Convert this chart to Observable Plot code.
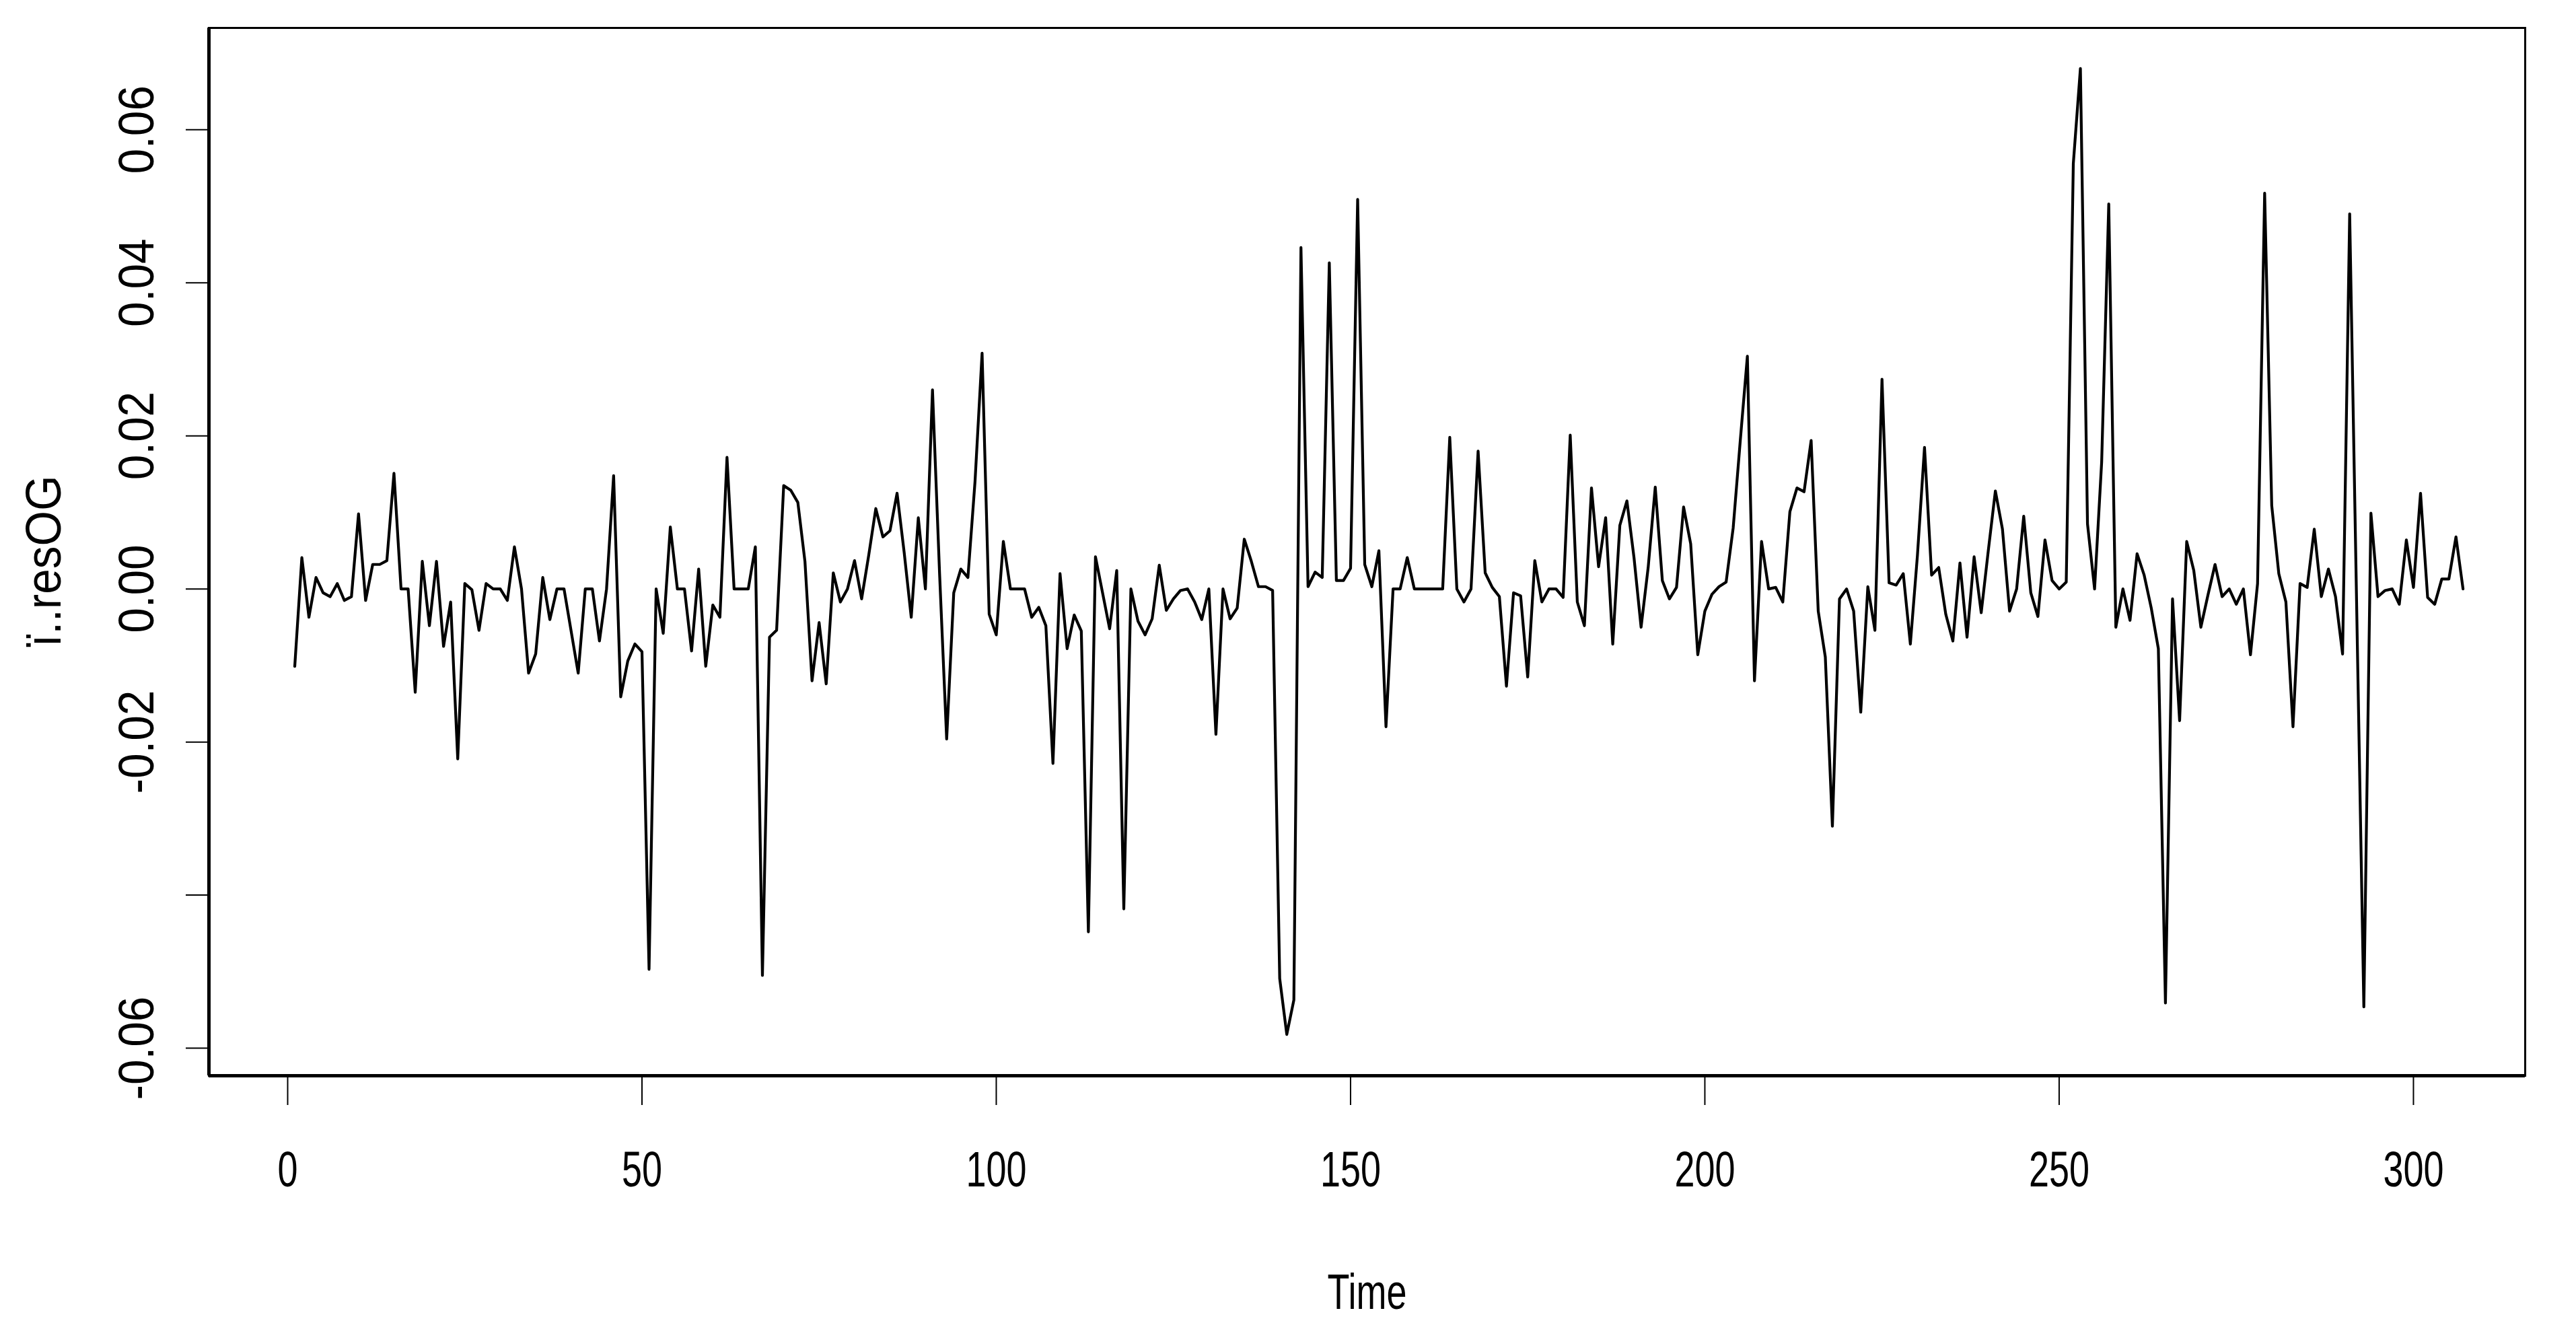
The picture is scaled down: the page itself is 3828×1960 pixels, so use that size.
<!DOCTYPE html>
<html>
<head>
<meta charset="utf-8">
<script src="https://cdn.jsdelivr.net/npm/d3@7"></script>
<script src="https://cdn.jsdelivr.net/npm/@observablehq/plot@0.6"></script>
<style>html,body{margin:0;padding:0;background:#fff;}</style>
</head>
<body>
<div id="chart"></div>
<script>
// Series values (t = 1 .. 307)
const values = [
-0.0101, 0.0041,-0.0037, 0.0015,-0.0005,-0.0010, 0.0007,-0.0015,-0.0010, 0.0098,
-0.0015, 0.0032, 0.0032, 0.0037, 0.0151, 0.0000, 0.0000,-0.0135, 0.0036,-0.0048,
 0.0036,-0.0075,-0.0017,-0.0222, 0.0007,-0.0001,-0.0054, 0.0007, 0.0000, 0.0000,
-0.0015, 0.0055, 0.0000,-0.0110,-0.0085, 0.0015,-0.0040, 0.0000, 0.0000,-0.0055,
-0.0110, 0.0000, 0.0000,-0.0068, 0.0000, 0.0148,-0.0141,-0.0094,-0.0072,-0.0082,
-0.0497, 0.0000,-0.0058, 0.0081, 0.0000, 0.0000,-0.0081, 0.0026,-0.0101,-0.0021,
-0.0037, 0.0172, 0.0000, 0.0000, 0.0000, 0.0055,-0.0505,-0.0063,-0.0054, 0.0135,
 0.0129, 0.0113, 0.0036,-0.0120,-0.0044,-0.0124, 0.0021,-0.0017, 0.0000, 0.0037,
-0.0013, 0.0044, 0.0105, 0.0068, 0.0076, 0.0125, 0.0048,-0.0037, 0.0093, 0.0000,
 0.0260, 0.0020,-0.0196,-0.0005, 0.0026, 0.0015, 0.0140, 0.0308,-0.0033,-0.0060,
 0.0062, 0.0000, 0.0000, 0.0000,-0.0037,-0.0024,-0.0048,-0.0228, 0.0020,-0.0078,
-0.0034,-0.0055,-0.0448, 0.0042,-0.0005,-0.0052, 0.0024,-0.0418, 0.0000,-0.0042,
-0.0060,-0.0039, 0.0031,-0.0028,-0.0013,-0.0002, 0.0000,-0.0017,-0.0040, 0.0000,
-0.0190, 0.0000,-0.0039,-0.0025, 0.0065, 0.0036, 0.0003, 0.0003,-0.0002,-0.0509,
-0.0582,-0.0537, 0.0446, 0.0003, 0.0022, 0.0015, 0.0426, 0.0011, 0.0011, 0.0027,
 0.0509, 0.0032, 0.0003, 0.0050,-0.0180, 0.0000, 0.0000, 0.0041, 0.0000, 0.0000,
 0.0000, 0.0000, 0.0000, 0.0198, 0.0000,-0.0017, 0.0000, 0.0180, 0.0021, 0.0002,
-0.0010,-0.0127,-0.0005,-0.0009,-0.0115, 0.0037,-0.0017, 0.0000, 0.0000,-0.0011,
 0.0201,-0.0017,-0.0048, 0.0132, 0.0029, 0.0093,-0.0072, 0.0083, 0.0115, 0.0041,
-0.0050, 0.0028, 0.0133, 0.0011,-0.0013, 0.0002, 0.0107, 0.0059,-0.0086,-0.0029,
-0.0007, 0.0003, 0.0009, 0.0080, 0.0194, 0.0304,-0.0120, 0.0062, 0.0000, 0.0002,
-0.0017, 0.0101, 0.0132, 0.0127, 0.0194,-0.0029,-0.0089,-0.0310,-0.0013, 0.0000,
-0.0029,-0.0161, 0.0003,-0.0054, 0.0274, 0.0008, 0.0005, 0.0020,-0.0072, 0.0044,
 0.0185, 0.0018, 0.0028,-0.0033,-0.0068, 0.0034,-0.0063, 0.0042,-0.0031, 0.0050,
 0.0128, 0.0078,-0.0029, 0.0000, 0.0095,-0.0005,-0.0036, 0.0064, 0.0011, 0.0000,
 0.0009, 0.0556, 0.0680, 0.0085, 0.0000, 0.0166, 0.0503,-0.0050, 0.0000,-0.0041,
 0.0046, 0.0018,-0.0025,-0.0078,-0.0541,-0.0013,-0.0172, 0.0062, 0.0024,-0.0050,
-0.0008, 0.0032,-0.0010, 0.0000,-0.0020, 0.0000,-0.0086, 0.0007, 0.0517, 0.0109,
 0.0020,-0.0017,-0.0180, 0.0007, 0.0002, 0.0078,-0.0010, 0.0026,-0.0010,-0.0085,
 0.0490,-0.0030,-0.0546, 0.0099,-0.0010,-0.0002, 0.0000,-0.0020, 0.0064, 0.0002,
 0.0125,-0.0011,-0.0020, 0.0013, 0.0013, 0.0068, 0.0000
];
const times = d3.range(1, values.length + 1); // time index 1..n
const xTicks = [0, 50, 100, 150, 200, 250, 300];
const xTickLabels = ["0", "50", "100", "150", "200", "250", "300"];
const yTicks = [-0.06, -0.04, -0.02, 0, 0.02, 0.04, 0.06];
const yTickLabels = ["-0.06", "", "-0.02", "0.00", "0.02", "0.04", "0.06"];
const xLabel = "Time";
const yLabel = "ï..resOG";
const xDomain = [-11.11, 315.77];
const yDomain = [-0.0636, 0.0733];

const data = values.map((v, i) => ({t: times[i], v}));

const W = 3828, H = 1960;
const mL = 310, mR = 76, mT = 41, mB = 362;
const frameW = W - mL - mR, frameH = H - mT - mB;

const plot = Plot.plot({
  width: W, height: H,
  marginLeft: mL, marginRight: mR, marginTop: mT, marginBottom: mB,
  x: {domain: xDomain, axis: null},
  y: {domain: yDomain, axis: null},
  style: {fontFamily: "'Liberation Sans', Arial, sans-serif", background: "white", color: "black"},
  marks: [
    Plot.line(data, {x: "t", y: "v", stroke: "black", strokeWidth: 4.2, strokeLinejoin: "round"}),
    Plot.frame({stroke: "black", strokeWidth: 3}),
    Plot.ruleX([xDomain[0]], {stroke: "black", strokeWidth: 5}),
    Plot.ruleY([yDomain[0]], {stroke: "black", strokeWidth: 5}),
    // tick marks outside the frame
    Plot.tickX(xTicks, {x: d => d, stroke: "black", strokeWidth: 2, insetTop: frameH, insetBottom: -44}),
    Plot.tickY(yTicks, {y: d => d, stroke: "black", strokeWidth: 2, insetRight: frameW, insetLeft: -34}),
    // tick labels
    Plot.text(xTicks, {x: d => d, text: (d, i) => xTickLabels[i], frameAnchor: "bottom", dy: 140,
      lineAnchor: "middle", textAnchor: "middle", fontSize: 75, fill: "black"}),
    Plot.text(yTicks, {y: d => d, text: (d, i) => yTickLabels[i], frameAnchor: "left", dx: -107,
      rotate: -90, lineAnchor: "middle", textAnchor: "middle", fontSize: 75, fill: "black"}),
    // axis titles
    Plot.text([xLabel], {text: d => d, frameAnchor: "bottom", dy: 322, lineAnchor: "middle",
      textAnchor: "middle", fontSize: 75, fill: "black"}),
    Plot.text([yLabel], {text: d => d, frameAnchor: "left", dx: -245, dy: 14, rotate: -90,
      lineAnchor: "middle", textAnchor: "middle", fontSize: 75, fill: "black"})
  ]
});

// condensed glyphs, as in the reference's narrow font
function squeeze(el, sx) {
  let tr = el.getAttribute("transform");
  if (tr) {
    el.setAttribute("transform", tr + ` scale(${sx},1)`);
  } else {
    const x = +el.getAttribute("x") || 0, y = +el.getAttribute("y") || 0;
    el.setAttribute("transform", `translate(${x},${y}) scale(${sx},1) translate(${-x},${-y})`);
  }
}
plot.querySelectorAll("text").forEach(el => {
  const s = el.textContent;
  if (xTickLabels.includes(s) || s === xLabel) squeeze(el, 0.72);
  else if ((s && yTickLabels.includes(s)) || s === yLabel) squeeze(el, 0.9);
});

document.getElementById("chart").appendChild(plot);
</script>
</body>
</html>
